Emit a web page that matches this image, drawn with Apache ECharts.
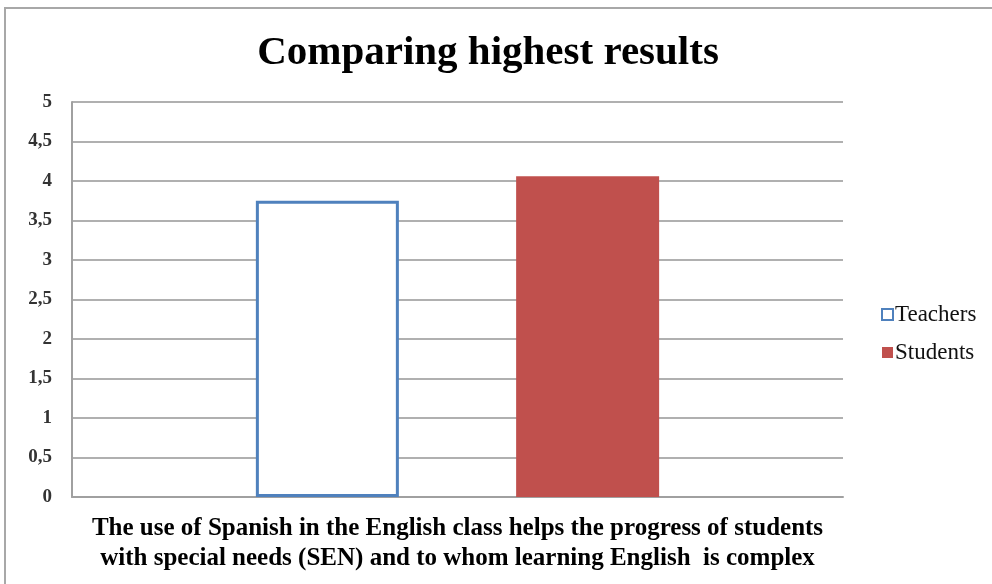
<!DOCTYPE html>
<html><head><meta charset="utf-8">
<script src="https://cdn.jsdelivr.net/npm/echarts@6/dist/echarts.min.js"></script>
<style>html,body{margin:0;padding:0;background:#fff}#c{width:992px;height:584px}</style>
</head><body><div id="c"></div>
<script>
const categories = ["The use of Spanish in the English class helps the progress of students\nwith special needs (SEN) and to whom learning English  is complex"];
const seriesNames = ["Teachers", "Students"];
const teachers = [3.75];
const students = [4.06];
const yTicks = [0, 0.5, 1, 1.5, 2, 2.5, 3, 3.5, 4, 4.5, 5];

const chart = echarts.init(document.getElementById('c'));
chart.setOption({
  animation: false,
  backgroundColor: '#fff',
  graphic: [{
    type: 'rect', shape: {x: 5, y: 8, width: 1000, height: 600},
    style: {fill: 'none', stroke: '#a8a8a8', lineWidth: 2}, z: -1
  }],
  title: {
    text: 'Comparing highest results', left: 483, top: 28, textAlign: 'center',
    textStyle: {fontFamily: 'Liberation Serif', fontWeight: 'bold', fontSize: 41, color: '#000'}
  },
  legend: {
    orient: 'vertical', left: 876, top: 298, itemGap: 15, itemWidth: 11, itemHeight: 11,
    data: [
      {name: seriesNames[0], icon: 'rect', itemStyle: {color: '#fff', borderColor: '#4f81bd', borderWidth: 2}},
      {name: seriesNames[1], icon: 'rect'}
    ],
    textStyle: {fontFamily: 'Liberation Serif', fontSize: 23, color: '#111', padding: [0, 0, 0, -3]}
  },
  grid: {left: 72, right: 149, top: 102, bottom: 87},
  xAxis: {
    type: 'category', data: categories,
    axisLine: {lineStyle: {color: '#a0a0a0', width: 2}},
    axisTick: {show: false},
    axisLabel: {
      margin: 17, lineHeight: 30, color: '#000',
      fontFamily: 'Liberation Serif', fontWeight: 'bold', fontSize: 25
    }
  },
  yAxis: {
    type: 'value', min: 0, max: 5, interval: 0.5,
    axisLine: {show: true, lineStyle: {color: '#a0a0a0', width: 2}},
    axisTick: {show: false},
    splitLine: {lineStyle: {color: '#b0b0b0', width: 2}},
    axisLabel: {
      margin: 20, color: '#333', fontFamily: 'Liberation Serif', fontWeight: 'bold', fontSize: 19,
      formatter: v => yTicks.includes(v) ? String(v).replace('.', ',') : ''
    }
  },
  series: [
    {name: seriesNames[0], type: 'bar', data: teachers, barWidth: 143, barGap: '82%',
     itemStyle: {color: '#fff', borderColor: '#4f81bd', borderWidth: 3}},
    {name: seriesNames[1], type: 'bar', data: students, barWidth: 143,
     itemStyle: {color: '#c0504d'}}
  ]
});
</script></body></html>
